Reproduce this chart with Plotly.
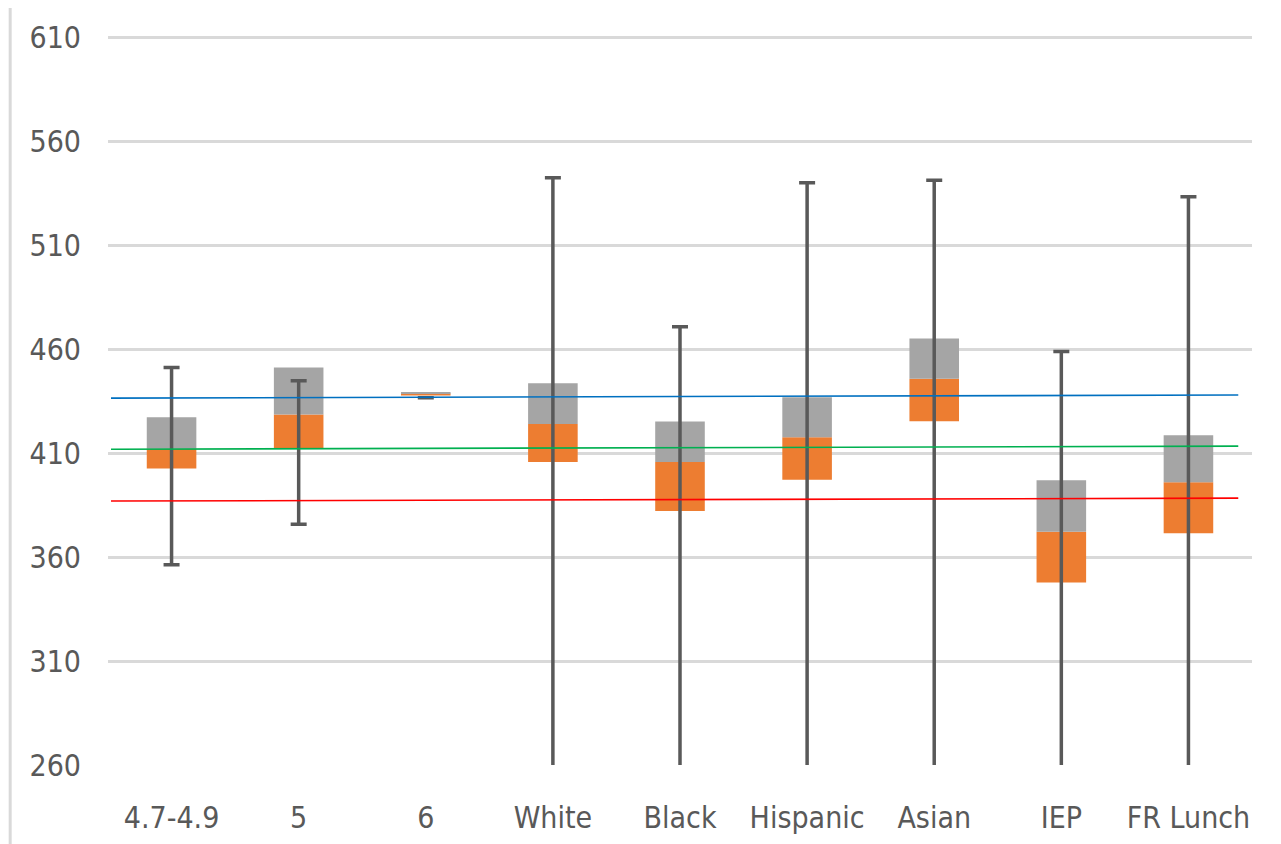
import plotly.graph_objects as go

categories = ["4.7-4.9", "5", "6", "White", "Black", "Hispanic", "Asian", "IEP", "FR Lunch"]
q1 = [402.5, 412.4, 437.6, 405.7, 382.1, 397.2, 425.3, 347.8, 371.4]
median = [412.0, 428.5, 438.6, 424.0, 405.7, 417.6, 445.7, 372.2, 396.0]
q3 = [427.2, 451.1, 439.3, 443.6, 425.2, 436.8, 465.1, 396.9, 418.5]
wmin = [356.3, 375.7, 436.6, 230, 230, 230, 230, 230, 230]
wmax = [451.1, 444.8, 436.6, 542.4, 470.7, 539.9, 541.2, 458.8, 533.2]

ref_names = ["blue", "green", "red"]
ref_start = [436.4, 411.8, 386.9]
ref_end = [437.9, 413.3, 388.3]
ref_colors = ["#0070c0", "#00b050", "#ff0000"]

yticks = [260, 310, 360, 410, 460, 510, 560, 610]

FONT = "Liberation Sans Narrow, Arial Narrow, DejaVu Sans Condensed, sans-serif"

fig = go.Figure()
fig.add_trace(go.Bar(
    x=categories, y=[m - a for m, a in zip(median, q1)], base=q1,
    marker=dict(color="#ed7d31", line=dict(width=0)), width=0.39, showlegend=False,
))
fig.add_trace(go.Bar(
    x=categories, y=[b - m for b, m in zip(q3, median)], base=median,
    marker=dict(color="#a5a5a5", line=dict(width=0)), width=0.39, showlegend=False,
))
fig.add_trace(go.Scatter(
    x=categories, y=wmax, mode="markers", marker=dict(size=0.1, color="rgba(0,0,0,0)"),
    error_y=dict(type="data", symmetric=False, array=[0] * len(wmax),
                 arrayminus=[mx - mn for mx, mn in zip(wmax, wmin)],
                 color="#595959", thickness=3.5, width=8),
    showlegend=False, cliponaxis=True,
))

shapes = []
for s, e, c in zip(ref_start, ref_end, ref_colors):
    shapes.append(dict(type="line", xref="paper", yref="y", x0=0.0026, x1=0.988,
                       y0=s, y1=e, line=dict(color=c, width=1.6), layer="above"))
shapes.append(dict(type="line", xref="paper", yref="paper", x0=-0.0855, x1=-0.0855,
                   y0=-0.2, y1=1.1, line=dict(color="#d9d9d9", width=3)))

fig.update_layout(
    width=1281, height=844,
    margin=dict(l=100, r=37, t=24, b=87),
    paper_bgcolor="white", plot_bgcolor="white",
    barmode="overlay", bargap=0.61,
    shapes=shapes,
    font=dict(family=FONT, size=30, color="#595959"),
    xaxis=dict(showgrid=False, zeroline=False, showline=False, ticks="",
               tickfont=dict(family=FONT, size=30, color="#595959"), ticklabelstandoff=32),
    yaxis=dict(range=[260, 610.5], tickvals=yticks, ticktext=[str(v) for v in yticks],
               showgrid=True, gridcolor="#d9d9d9", gridwidth=3, zeroline=False,
               showline=False, ticks="", ticklabelstandoff=26,
               tickfont=dict(family=FONT, size=30, color="#595959")),
)

fig.write_html("out.html")
